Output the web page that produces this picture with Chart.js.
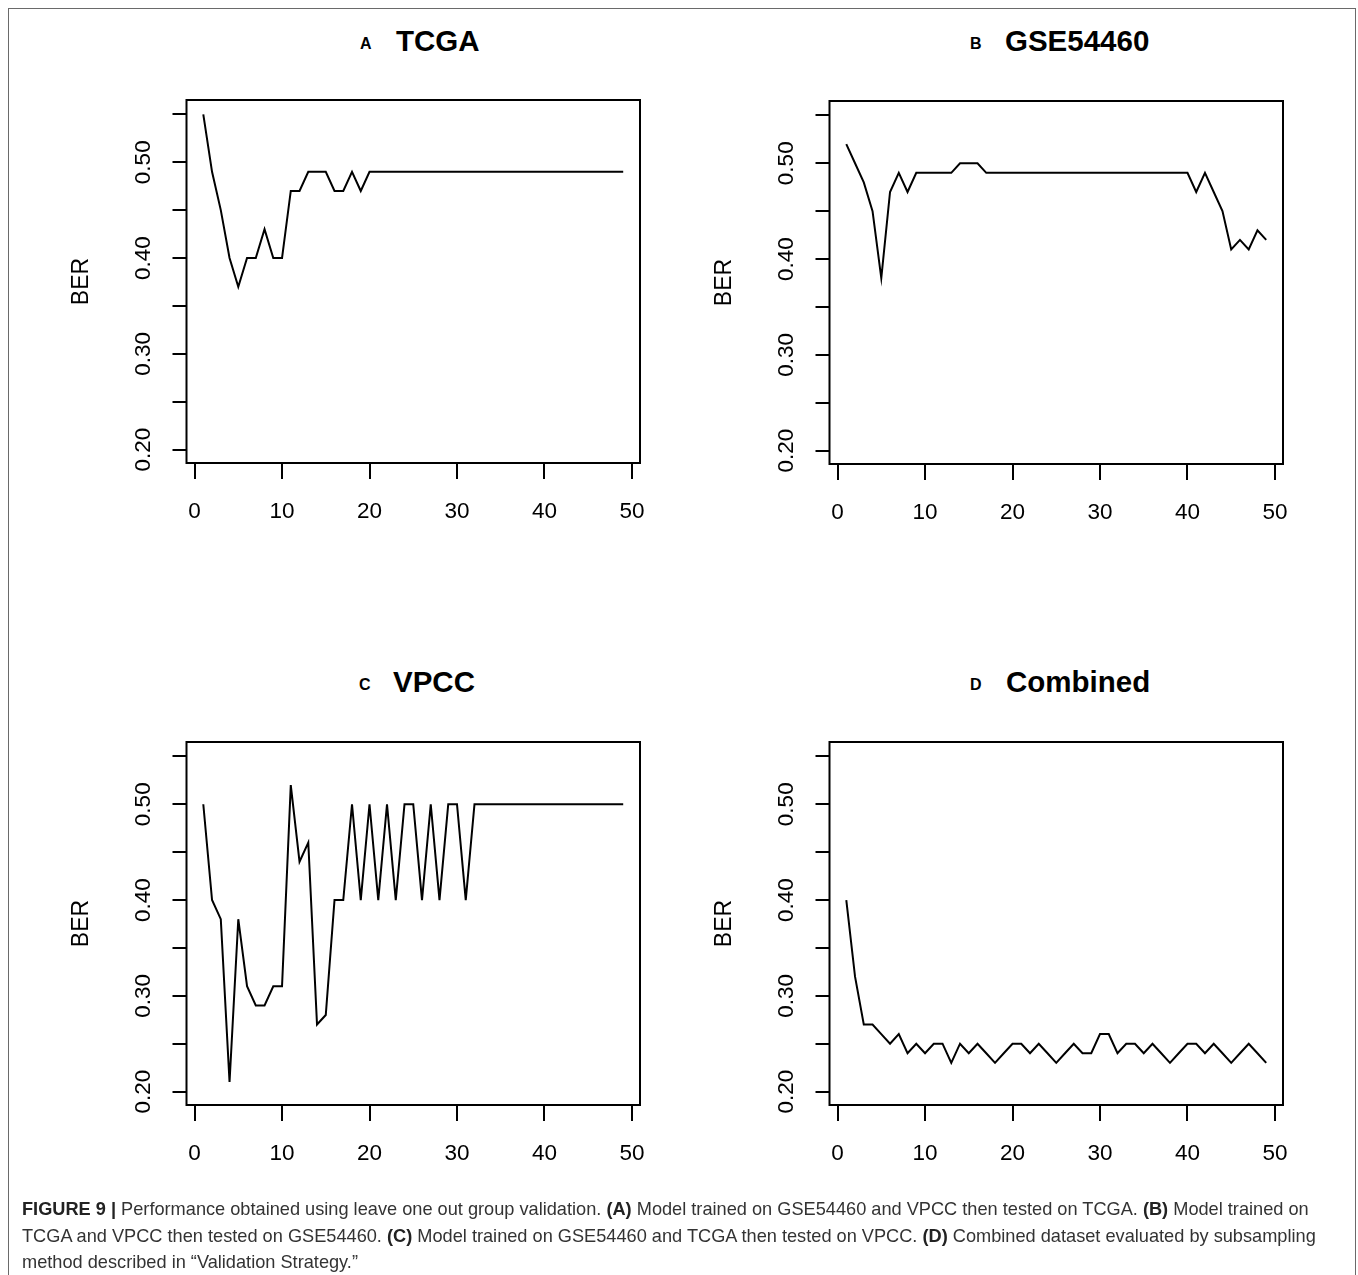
<!DOCTYPE html>
<html>
<head>
<meta charset="utf-8">
<script src="https://cdn.jsdelivr.net/npm/chart.js@4/dist/chart.umd.min.js"></script>
<style>
  html, body { margin: 0; padding: 0; background: #fff; overflow: hidden; }
  body { width: 1358px; height: 1275px; position: relative; font-family: "Liberation Sans", Arial, sans-serif; }
  .frame { position: absolute; left: 8px; top: 8px; width: 1346px; height: 1320px; border: 1.5px solid #6a6a6a; }
  canvas { position: absolute; }
  .letter { position: absolute; font-size: 16px; font-weight: bold; line-height: 16px; color: #000; }
  .title { position: absolute; font-size: 29.5px; font-weight: bold; line-height: 29px; color: #000; }
  .caption { position: absolute; left: 22px; top: 1196px; font-size: 18.2px; line-height: 26.5px; color: #333; white-space: nowrap; }
  .caption b { color: #222; }
</style>
</head>
<body>
<div class="frame"></div>

<div class="letter" style="left:360px; top:36px;">A</div>
<div class="title" style="left:396px; top:26px;">TCGA</div>
<div class="letter" style="left:970px; top:36px;">B</div>
<div class="title" style="left:1005px; top:26px;">GSE54460</div>
<div class="letter" style="left:359px; top:677px;">C</div>
<div class="title" style="left:393px; top:667px;">VPCC</div>
<div class="letter" style="left:970px; top:677px;">D</div>
<div class="title" style="left:1006px; top:667px;">Combined</div>

<canvas id="chart-a" width="650" height="510" style="left:20px; top:60px;"></canvas>
<canvas id="chart-b" width="650" height="510" style="left:663px; top:61px;"></canvas>
<canvas id="chart-c" width="650" height="510" style="left:20px; top:702px;"></canvas>
<canvas id="chart-d" width="650" height="510" style="left:663px; top:702px;"></canvas>

<div class="caption">
  <b>FIGURE 9 |</b> Performance obtained using leave one out group validation. <b>(A)</b> Model trained on GSE54460 and VPCC then tested on TCGA. <b>(B)</b> Model trained on<br>
  TCGA and VPCC then tested on GSE54460. <b>(C)</b> Model trained on GSE54460 and TCGA then tested on VPCC. <b>(D)</b> Combined dataset evaluated by subsampling<br>
  method described in “Validation Strategy.”
</div>

<script>
const iterations = [1, 2, 3, 4, 5, 6, 7, 8, 9, 10, 11, 12, 13, 14, 15, 16, 17, 18, 19, 20, 21, 22, 23, 24, 25,
    26, 27, 28, 29, 30, 31, 32, 33, 34, 35, 36, 37, 38, 39, 40, 41, 42, 43, 44, 45, 46, 47, 48, 49];

const tcgaBER = [0.55, 0.49, 0.45, 0.40, 0.37, 0.40, 0.40, 0.43, 0.40, 0.40, 0.47, 0.47, 0.49, 0.49, 0.49,
    0.47, 0.47, 0.49, 0.47, 0.49, 0.49, 0.49, 0.49, 0.49, 0.49, 0.49, 0.49, 0.49, 0.49, 0.49, 0.49, 0.49,
    0.49, 0.49, 0.49, 0.49, 0.49, 0.49, 0.49, 0.49, 0.49, 0.49, 0.49, 0.49, 0.49, 0.49, 0.49, 0.49, 0.49];

const gseBER = [0.52, 0.50, 0.48, 0.45, 0.38, 0.47, 0.49, 0.47, 0.49, 0.49, 0.49, 0.49, 0.49, 0.50, 0.50,
    0.50, 0.49, 0.49, 0.49, 0.49, 0.49, 0.49, 0.49, 0.49, 0.49, 0.49, 0.49, 0.49, 0.49, 0.49, 0.49, 0.49,
    0.49, 0.49, 0.49, 0.49, 0.49, 0.49, 0.49, 0.49, 0.47, 0.49, 0.47, 0.45, 0.41, 0.42, 0.41, 0.43, 0.42];

const vpccBER = [0.50, 0.40, 0.38, 0.21, 0.38, 0.31, 0.29, 0.29, 0.31, 0.31, 0.52, 0.44, 0.46, 0.27, 0.28,
    0.40, 0.40, 0.50, 0.40, 0.50, 0.40, 0.50, 0.40, 0.50, 0.50, 0.40, 0.50, 0.40, 0.50, 0.50, 0.40, 0.50,
    0.50, 0.50, 0.50, 0.50, 0.50, 0.50, 0.50, 0.50, 0.50, 0.50, 0.50, 0.50, 0.50, 0.50, 0.50, 0.50, 0.50];

const combinedBER = [0.40, 0.32, 0.27, 0.27, 0.26, 0.25, 0.26, 0.24, 0.25, 0.24, 0.25, 0.25, 0.23, 0.25, 0.24,
    0.25, 0.24, 0.23, 0.24, 0.25, 0.25, 0.24, 0.25, 0.24, 0.23, 0.24, 0.25, 0.24, 0.24, 0.26, 0.26, 0.24,
    0.25, 0.25, 0.24, 0.25, 0.24, 0.23, 0.24, 0.25, 0.25, 0.24, 0.25, 0.24, 0.23, 0.24, 0.25, 0.24, 0.23];

const yTickLabels = ['0.20', '0.30', '0.40', '0.50'];
const xTickLabels = ['0', '10', '20', '30', '40', '50'];

// box around the plot region + rotated y labels (R style)
const rStylePlugin = {
    id: 'rStyle',
    afterDraw(chart) {
        const ctx = chart.ctx;
        const area = chart.chartArea;
        const yScale = chart.scales.y;
        ctx.save();
        ctx.strokeStyle = '#000';
        ctx.lineWidth = 2;
        ctx.strokeRect(area.left, area.top, area.right - area.left, area.bottom - area.top);

        ctx.fillStyle = '#000';
        ctx.font = '22.5px "Liberation Sans", Arial, sans-serif';
        ctx.textAlign = 'center';
        ctx.textBaseline = 'middle';
        yTickLabels.forEach(label => {
            const py = yScale.getPixelForValue(parseFloat(label));
            ctx.save();
            ctx.translate(area.left - 43, py);
            ctx.rotate(-Math.PI / 2);
            ctx.fillText(label, 0, 0);
            ctx.restore();
        });
        ctx.restore();
    }
};

function drawPanel(canvasId, values) {
    const ctx = document.getElementById(canvasId).getContext('2d');
    return new Chart(ctx, {
        type: 'line',
        data: {
            datasets: [{
                data: iterations.map((it, i) => ({ x: it, y: values[i] })),
                borderColor: '#000',
                borderWidth: 2,
                pointRadius: 0,
                tension: 0,
                fill: false
            }]
        },
        options: {
            responsive: false,
            animation: false,
            layout: { padding: { top: 40, right: 30, left: 0, bottom: 0 } },
            plugins: { legend: { display: false }, tooltip: { enabled: false }, title: { display: false } },
            scales: {
                x: {
                    type: 'linear',
                    min: -0.92,
                    max: 50.92,
                    border: { display: false },
                    grid: { drawOnChartArea: false, drawTicks: true, tickLength: 16, color: '#000', lineWidth: 2 },
                    ticks: {
                        stepSize: 10,
                        includeBounds: false,
                        padding: 19,
                        color: '#000',
                        font: { size: 22.5, family: '"Liberation Sans", Arial, sans-serif' },
                        maxRotation: 0,
                        callback: v => xTickLabels.includes(String(v)) ? String(v) : ''
                    },
                    afterFit: scale => { scale.height = 107; }
                },
                y: {
                    min: 0.186,
                    max: 0.565,
                    border: { display: false },
                    grid: { drawOnChartArea: false, drawTicks: true, tickLength: 14, color: '#000', lineWidth: 2 },
                    ticks: { stepSize: 0.05, includeBounds: false, callback: () => '' },
                    title: {
                        display: true,
                        text: 'BER',
                        color: '#000',
                        font: { size: 23, family: '"Liberation Sans", Arial, sans-serif' },
                        padding: { top: 48, bottom: 0 }
                    },
                    afterFit: scale => { scale.width = 166.5; }
                }
            }
        },
        plugins: [rStylePlugin]
    });
}

drawPanel('chart-a', tcgaBER);
drawPanel('chart-b', gseBER);
drawPanel('chart-c', vpccBER);
drawPanel('chart-d', combinedBER);
</script>
</body>
</html>
